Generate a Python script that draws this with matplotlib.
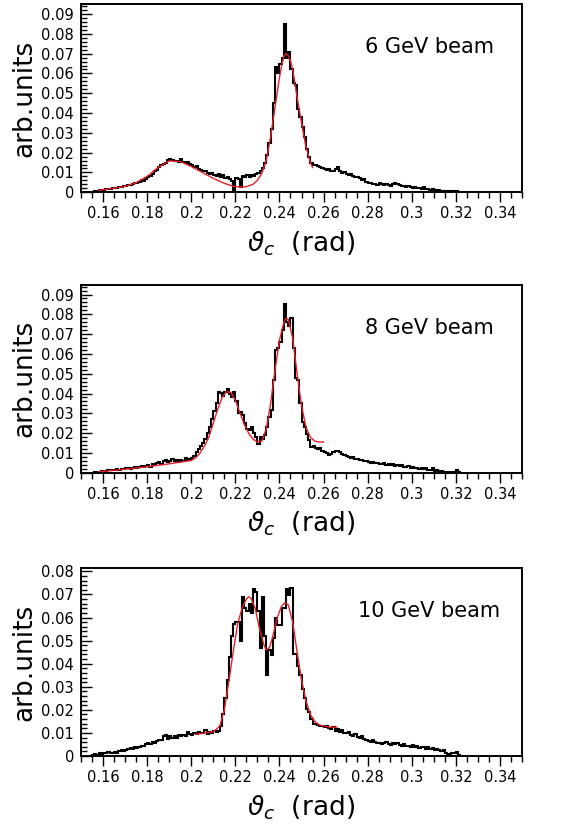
import numpy as np
import matplotlib
matplotlib.use("Agg")
import matplotlib.pyplot as plt
from matplotlib.ticker import MultipleLocator

plt.rcParams['font.family'] = ['DejaVu Sans']
plt.rcParams['mathtext.fontset'] = 'dejavusans'

# histogram: bins of 0.001 rad starting at 0.155
bin_start = 0.155
bin_width = 0.001

labels = ["6 GeV beam", "8 GeV beam", "10 GeV beam"]

counts_6 = [
    0.0003, 0.0005, 0.0008, 0.0010, 0.0012, 0.0012, 0.0015, 0.0017, 0.0016, 0.0020,
    0.0022, 0.0021, 0.0025, 0.0028, 0.0030, 0.0032, 0.0035, 0.0034, 0.0040, 0.0045,
    0.0047, 0.0050, 0.0060, 0.0058, 0.0065, 0.0075, 0.0080, 0.0090, 0.0105, 0.0110,
    0.0125, 0.0135, 0.0145, 0.0150, 0.0162, 0.0168, 0.0165, 0.0158, 0.0160, 0.0152,
    0.0168, 0.0155, 0.0148, 0.0152, 0.0145, 0.0135, 0.0128, 0.0130, 0.0118, 0.0112,
    0.0105, 0.0108, 0.0098, 0.0092, 0.0095, 0.0088, 0.0082, 0.0092, 0.0078, 0.0085,
    0.0072, 0.0075, 0.0068, 0.0058, 0.0000, 0.0072, 0.0068, 0.0025, 0.0080, 0.0078,
    0.0085, 0.0078, 0.0088, 0.0082, 0.0090, 0.0095, 0.0105, 0.0120, 0.0150, 0.0190,
    0.0250, 0.0320, 0.0450, 0.0630, 0.0600, 0.0650, 0.0680, 0.0852, 0.0680, 0.0710,
    0.0620, 0.0550, 0.0540, 0.0420, 0.0380, 0.0330, 0.0280, 0.0220, 0.0180, 0.0150,
    0.0140, 0.0135, 0.0130, 0.0125, 0.0120, 0.0115, 0.0110, 0.0115, 0.0105, 0.0108,
    0.0118, 0.0125, 0.0108, 0.0095, 0.0102, 0.0092, 0.0085, 0.0090, 0.0080, 0.0075,
    0.0078, 0.0070, 0.0062, 0.0068, 0.0050, 0.0045, 0.0048, 0.0040, 0.0042, 0.0038,
    0.0045, 0.0040, 0.0035, 0.0040, 0.0038, 0.0032, 0.0040, 0.0048, 0.0042, 0.0035,
    0.0032, 0.0030, 0.0028, 0.0032, 0.0025, 0.0022, 0.0028, 0.0020, 0.0022, 0.0018,
    0.0025, 0.0015, 0.0018, 0.0012, 0.0015, 0.0010, 0.0008, 0.0012, 0.0006, 0.0008,
    0.0005, 0.0006, 0.0003, 0.0004, 0.0002, 0.0008, 0.0003,
]

counts_8 = [
    0.0000, 0.0002, 0.0003, 0.0005, 0.0008, 0.0010, 0.0008, 0.0012, 0.0012, 0.0015,
    0.0015, 0.0018, 0.0016, 0.0020, 0.0018, 0.0022, 0.0025, 0.0020, 0.0025, 0.0028,
    0.0025, 0.0030, 0.0032, 0.0028, 0.0035, 0.0038, 0.0030, 0.0045, 0.0040, 0.0048,
    0.0052, 0.0045, 0.0058, 0.0065, 0.0055, 0.0060, 0.0068, 0.0058, 0.0062, 0.0055,
    0.0065, 0.0058, 0.0072, 0.0062, 0.0068, 0.0075, 0.0085, 0.0105, 0.0120, 0.0135,
    0.0150, 0.0170, 0.0200, 0.0230, 0.0270, 0.0310, 0.0350, 0.0410, 0.0405, 0.0390,
    0.0410, 0.0425, 0.0400, 0.0380, 0.0410, 0.0360, 0.0300, 0.0305, 0.0290, 0.0250,
    0.0220, 0.0215, 0.0230, 0.0200, 0.0180, 0.0144, 0.0180, 0.0170, 0.0190, 0.0230,
    0.0280, 0.0315, 0.0470, 0.0620, 0.0630, 0.0660, 0.0720, 0.0850, 0.0760, 0.0740,
    0.0780, 0.0630, 0.0480, 0.0470, 0.0350, 0.0257, 0.0230, 0.0195, 0.0165, 0.0130,
    0.0135, 0.0125, 0.0118, 0.0125, 0.0110, 0.0105, 0.0098, 0.0092, 0.0095, 0.0105,
    0.0110, 0.0112, 0.0105, 0.0095, 0.0088, 0.0082, 0.0080, 0.0075, 0.0078, 0.0070,
    0.0068, 0.0062, 0.0065, 0.0058, 0.0060, 0.0055, 0.0050, 0.0052, 0.0048, 0.0050,
    0.0045, 0.0042, 0.0048, 0.0040, 0.0042, 0.0038, 0.0042, 0.0035, 0.0038, 0.0032,
    0.0038, 0.0030, 0.0028, 0.0032, 0.0025, 0.0028, 0.0022, 0.0025, 0.0020, 0.0022,
    0.0018, 0.0022, 0.0015, 0.0012, 0.0025, 0.0008, 0.0012, 0.0008, 0.0010, 0.0006,
    0.0005, 0.0004, 0.0003, 0.0003, 0.0002, 0.0012, 0.0003,
]

counts_10 = [
    0.0005, 0.0008, 0.0005, 0.0012, 0.0010, 0.0015, 0.0012, 0.0018, 0.0015, 0.0012,
    0.0018, 0.0015, 0.0022, 0.0025, 0.0020, 0.0028, 0.0032, 0.0035, 0.0030, 0.0038,
    0.0035, 0.0040, 0.0045, 0.0042, 0.0050, 0.0055, 0.0052, 0.0060, 0.0058, 0.0065,
    0.0070, 0.0068, 0.0085, 0.0092, 0.0072, 0.0088, 0.0078, 0.0085, 0.0080, 0.0090,
    0.0085, 0.0092, 0.0088, 0.0102, 0.0095, 0.0092, 0.0098, 0.0095, 0.0105, 0.0098,
    0.0100, 0.0112, 0.0095, 0.0105, 0.0098, 0.0110, 0.0105,
    0.0110, 0.0130, 0.0180, 0.0250, 0.0330, 0.0430, 0.0520, 0.0570, 0.0580, 0.0580,
    0.0500, 0.0690, 0.0640, 0.0630, 0.0660, 0.0620, 0.0725, 0.0710, 0.0630, 0.0470,
    0.0690, 0.0520, 0.0350, 0.0460, 0.0437, 0.0510, 0.0600, 0.0566, 0.0566, 0.0640,
    0.0640, 0.0725, 0.0696, 0.0730, 0.0443, 0.0440, 0.0390, 0.0350, 0.0290, 0.0250,
    0.0205, 0.0190, 0.0160, 0.0140, 0.0140, 0.0135, 0.0130, 0.0128, 0.0125, 0.0132,
    0.0120, 0.0115, 0.0125, 0.0110, 0.0118, 0.0105, 0.0112, 0.0100, 0.0098, 0.0102,
    0.0092, 0.0088, 0.0095, 0.0082, 0.0078, 0.0085, 0.0072, 0.0070, 0.0065, 0.0062,
    0.0068, 0.0060, 0.0056, 0.0058, 0.0052, 0.0055, 0.0060, 0.0052, 0.0048, 0.0055,
    0.0050, 0.0058, 0.0048, 0.0045, 0.0052, 0.0042, 0.0045, 0.0040, 0.0048, 0.0038,
    0.0042, 0.0035, 0.0040, 0.0038, 0.0032, 0.0038, 0.0030, 0.0035, 0.0028, 0.0032,
    0.0025, 0.0022, 0.0025, 0.0015, 0.0010, 0.0008, 0.0015, 0.0012, 0.0018, 0.0005,
]

# fit curves (red)
fit_x_6 = [0.158, 0.165, 0.170, 0.175, 0.180, 0.185, 0.190, 0.195, 0.200, 0.205,
           0.210, 0.215, 0.219, 0.222, 0.225, 0.228, 0.230, 0.232, 0.234, 0.236,
           0.238, 0.240, 0.241, 0.242, 0.243, 0.244, 0.245, 0.246, 0.248, 0.250,
           0.252, 0.254, 0.255]
fit_y_6 = [0.0010, 0.0020, 0.0030, 0.0048, 0.0080, 0.0125, 0.0158, 0.0155, 0.0130, 0.0100,
           0.0070, 0.0045, 0.0030, 0.0026, 0.0028, 0.0040, 0.0060, 0.0095, 0.0160, 0.0280,
           0.0430, 0.0580, 0.0640, 0.0685, 0.0700, 0.0690, 0.0665, 0.0620, 0.0480, 0.0350,
           0.0230, 0.0150, 0.0125]

fit_x_8 = [0.158, 0.165, 0.170, 0.180, 0.190, 0.200, 0.202, 0.204, 0.206, 0.208,
           0.210, 0.212, 0.214, 0.216, 0.218, 0.220, 0.222, 0.224, 0.226, 0.228,
           0.230, 0.232, 0.234, 0.236, 0.238, 0.240, 0.242, 0.243, 0.244, 0.246,
           0.248, 0.250, 0.252, 0.254, 0.256, 0.258, 0.260]
fit_y_8 = [0.0005, 0.0012, 0.0018, 0.0030, 0.0045, 0.0062, 0.0075, 0.0100, 0.0135, 0.0180,
           0.0250, 0.0320, 0.0380, 0.0410, 0.0405, 0.0365, 0.0305, 0.0245, 0.0200, 0.0170,
           0.0155, 0.0160, 0.0220, 0.0350, 0.0520, 0.0670, 0.0760, 0.0780, 0.0775, 0.0680,
           0.0500, 0.0340, 0.0230, 0.0180, 0.0160, 0.0155, 0.0155]

fit_x_10 = [0.202, 0.205, 0.210, 0.213, 0.215, 0.217, 0.219, 0.221, 0.223, 0.225,
            0.226, 0.227, 0.229, 0.231, 0.233, 0.234, 0.2355, 0.237, 0.239, 0.241,
            0.2425, 0.244, 0.246, 0.248, 0.250, 0.252, 0.254, 0.256, 0.258, 0.260,
            0.263, 0.266]
fit_y_10 = [0.0095, 0.0098, 0.0105, 0.0130, 0.0200, 0.0320, 0.0450, 0.0570, 0.0640, 0.0680,
            0.0690, 0.0685, 0.0640, 0.0550, 0.0480, 0.0460, 0.0470, 0.0520, 0.0600, 0.0650,
            0.0665, 0.0655, 0.0580, 0.0450, 0.0330, 0.0240, 0.0180, 0.0150, 0.0135, 0.0130,
            0.0125, 0.0125]

counts = [counts_6, counts_8, counts_10]
fits = [(fit_x_6, fit_y_6), (fit_x_8, fit_y_8), (fit_x_10, fit_y_10)]
ymax = [0.095, 0.095, 0.0815]

fig = plt.figure(figsize=(5.64, 8.25), dpi=100)
# axes boxes in figure fractions [left, bottom, width, height]
boxes = [[0.1436, 0.767, 0.782, 0.228],
         [0.1436, 0.427, 0.782, 0.228],
         [0.1436, 0.0836, 0.782, 0.228]]

for k in range(3):
    ax = fig.add_axes(boxes[k])
    vals = np.array(counts[k])
    edges = bin_start + bin_width * np.arange(len(vals) + 1)
    ax.stairs(vals, edges, color='black', lw=1.5, baseline=0)
    ax.plot(fits[k][0], fits[k][1], color='#e8202a', lw=1.0)

    ax.set_xlim(0.15, 0.35)
    ax.set_ylim(0, ymax[k])
    ax.xaxis.set_minor_locator(MultipleLocator(0.005))
    ax.yaxis.set_minor_locator(MultipleLocator(0.002))
    ax.set_xticks([0.16, 0.18, 0.2, 0.22, 0.24, 0.26, 0.28, 0.3, 0.32, 0.34])
    ax.set_xticklabels(['0.16', '0.18', '0.2', '0.22', '0.24', '0.26',
                        '0.28', '0.3', '0.32', '0.34'])
    yt = np.arange(0, ymax[k] - 0.001, 0.01)
    ax.set_yticks(yt)
    ax.set_yticklabels(['0'] + ['%.2f' % v for v in yt[1:]])

    ax.tick_params(axis='x', which='major', direction='out', length=7, width=1, labelsize=10.5, pad=3)
    ax.tick_params(axis='x', which='minor', direction='out', length=4, width=1)
    ax.tick_params(axis='y', which='major', direction='in', length=8, width=1, labelsize=10.5, pad=5)
    ax.tick_params(axis='y', which='minor', direction='in', length=4, width=1)
    for s in ax.spines.values():
        s.set_linewidth(1.4)

    ax.set_ylabel('arb.units', fontsize=19, labelpad=3)
    ax.set_xlabel(r'$\vartheta_c$  (rad)', fontsize=19, labelpad=6)
    ax.text(0.79, 0.77, labels[k], transform=ax.transAxes, ha='center', va='center', fontsize=15)

fig.savefig('out.png', dpi=100)
